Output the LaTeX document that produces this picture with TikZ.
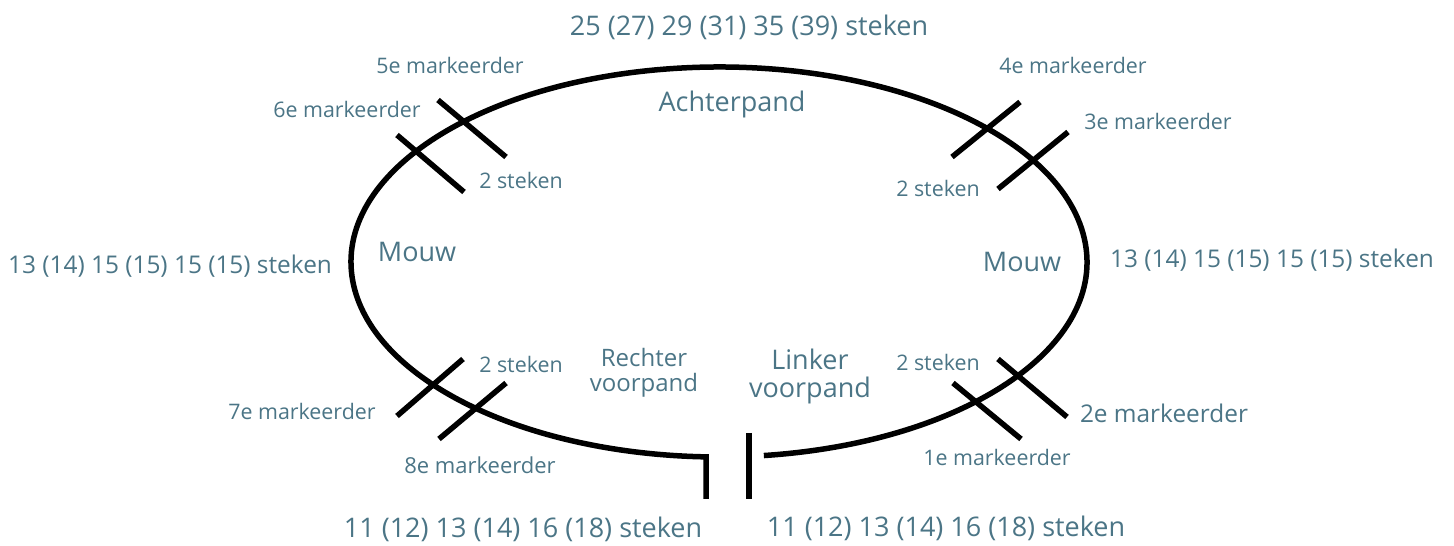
\documentclass[tikz,border=0pt]{standalone}
\usepackage{fontspec}
\setmainfont{Open Sans}
\usepackage{xcolor}
\usetikzlibrary{positioning}
\definecolor{labelcol}{HTML}{4B7586}

\begin{document}
\begin{tikzpicture}[
  x=1pt,
  y=1pt,
  every node/.style={text=labelcol, inner sep=0pt},
  biglabel/.style={font=\fontsize{27}{30}\selectfont},
  midlabel/.style={font=\fontsize{24.4}{27}\selectfont},
  smalllabel/.style={font=\fontsize{21.4}{24}\selectfont},
  piece/.style={align=center},
  rim/.style={draw=black, line width=5.5pt},
  marker/.style={draw=black, line width=5.5pt}
]
\useasboundingbox (0,0) rectangle (1454,546);

% body outline with the opening at the front
\draw[rim] (719,284) ++(-83:368 and 195) arc[start angle=-83, end angle=268, x radius=368, y radius=195] -- ++(0,-42);
\draw[rim] (749,113) -- (749,47);

% markers
\draw[marker] (438,446) -- (506,389);
\draw[marker] (397,411) -- (464,354);
\draw[marker] (1020,444) -- (952,389);
\draw[marker] (1068,414) -- (998,357);
\draw[marker] (463,187) -- (397,130);
\draw[marker] (506,163) -- (439,107);
\draw[marker] (998,187) -- (1067,129);
\draw[marker] (953,163) -- (1021,107);

% pieces
\node[biglabel] (back) at (749,519) {25 (27) 29 (31) 35 (39) steken};
\node[biglabel] (backname) at (732,442) {Achterpand};
\node[biglabel] (sleeveL) at (417,294) {Mouw};
\node[biglabel] (sleeveR) at (1022,284) {Mouw};
\node[midlabel] (sleeveLst) at (170,280) {13 (14) 15 (15) 15 (15) steken};
\node[midlabel] (sleeveRst) at (1272,286) {13 (14) 15 (15) 15 (15) steken};
\node[biglabel] (frontLst) at (523,17) {11 (12) 13 (14) 16 (18) steken};
\node[biglabel] (frontRst) at (946,18) {11 (12) 13 (14) 16 (18) steken};
\node[midlabel, piece, font=\fontsize{24}{25.5}\selectfont] (frontR) at (644,173) {Rechter\\voorpand};
\node[biglabel, piece, font=\fontsize{27}{28}\selectfont] (frontL) at (810,170) {Linker\\voorpand};

% marker labels
\node[smalllabel] (m5) at (450,481) {5e markeerder};
\node[smalllabel] (m6) at (347,437) {6e markeerder};
\node[smalllabel] (gapTL) at (521,366) {2 steken};
\node[smalllabel] (m4) at (1073,481) {4e markeerder};
\node[smalllabel] (m3) at (1158,425) {3e markeerder};
\node[smalllabel] (gapTR) at (938,358) {2 steken};
\node[smalllabel] (gapBL) at (521,182) {2 steken};
\node[smalllabel] (m7) at (302,135) {7e markeerder};
\node[smalllabel, font=\fontsize{22}{24}\selectfont] (m8) at (480,81) {8e markeerder};
\node[smalllabel] (gapBR) at (938,184) {2 steken};
\node[midlabel] (m2) at (1164,133) {2e markeerder};
\node[smalllabel] (m1) at (997,89) {1e markeerder};
\end{tikzpicture}
\end{document}
